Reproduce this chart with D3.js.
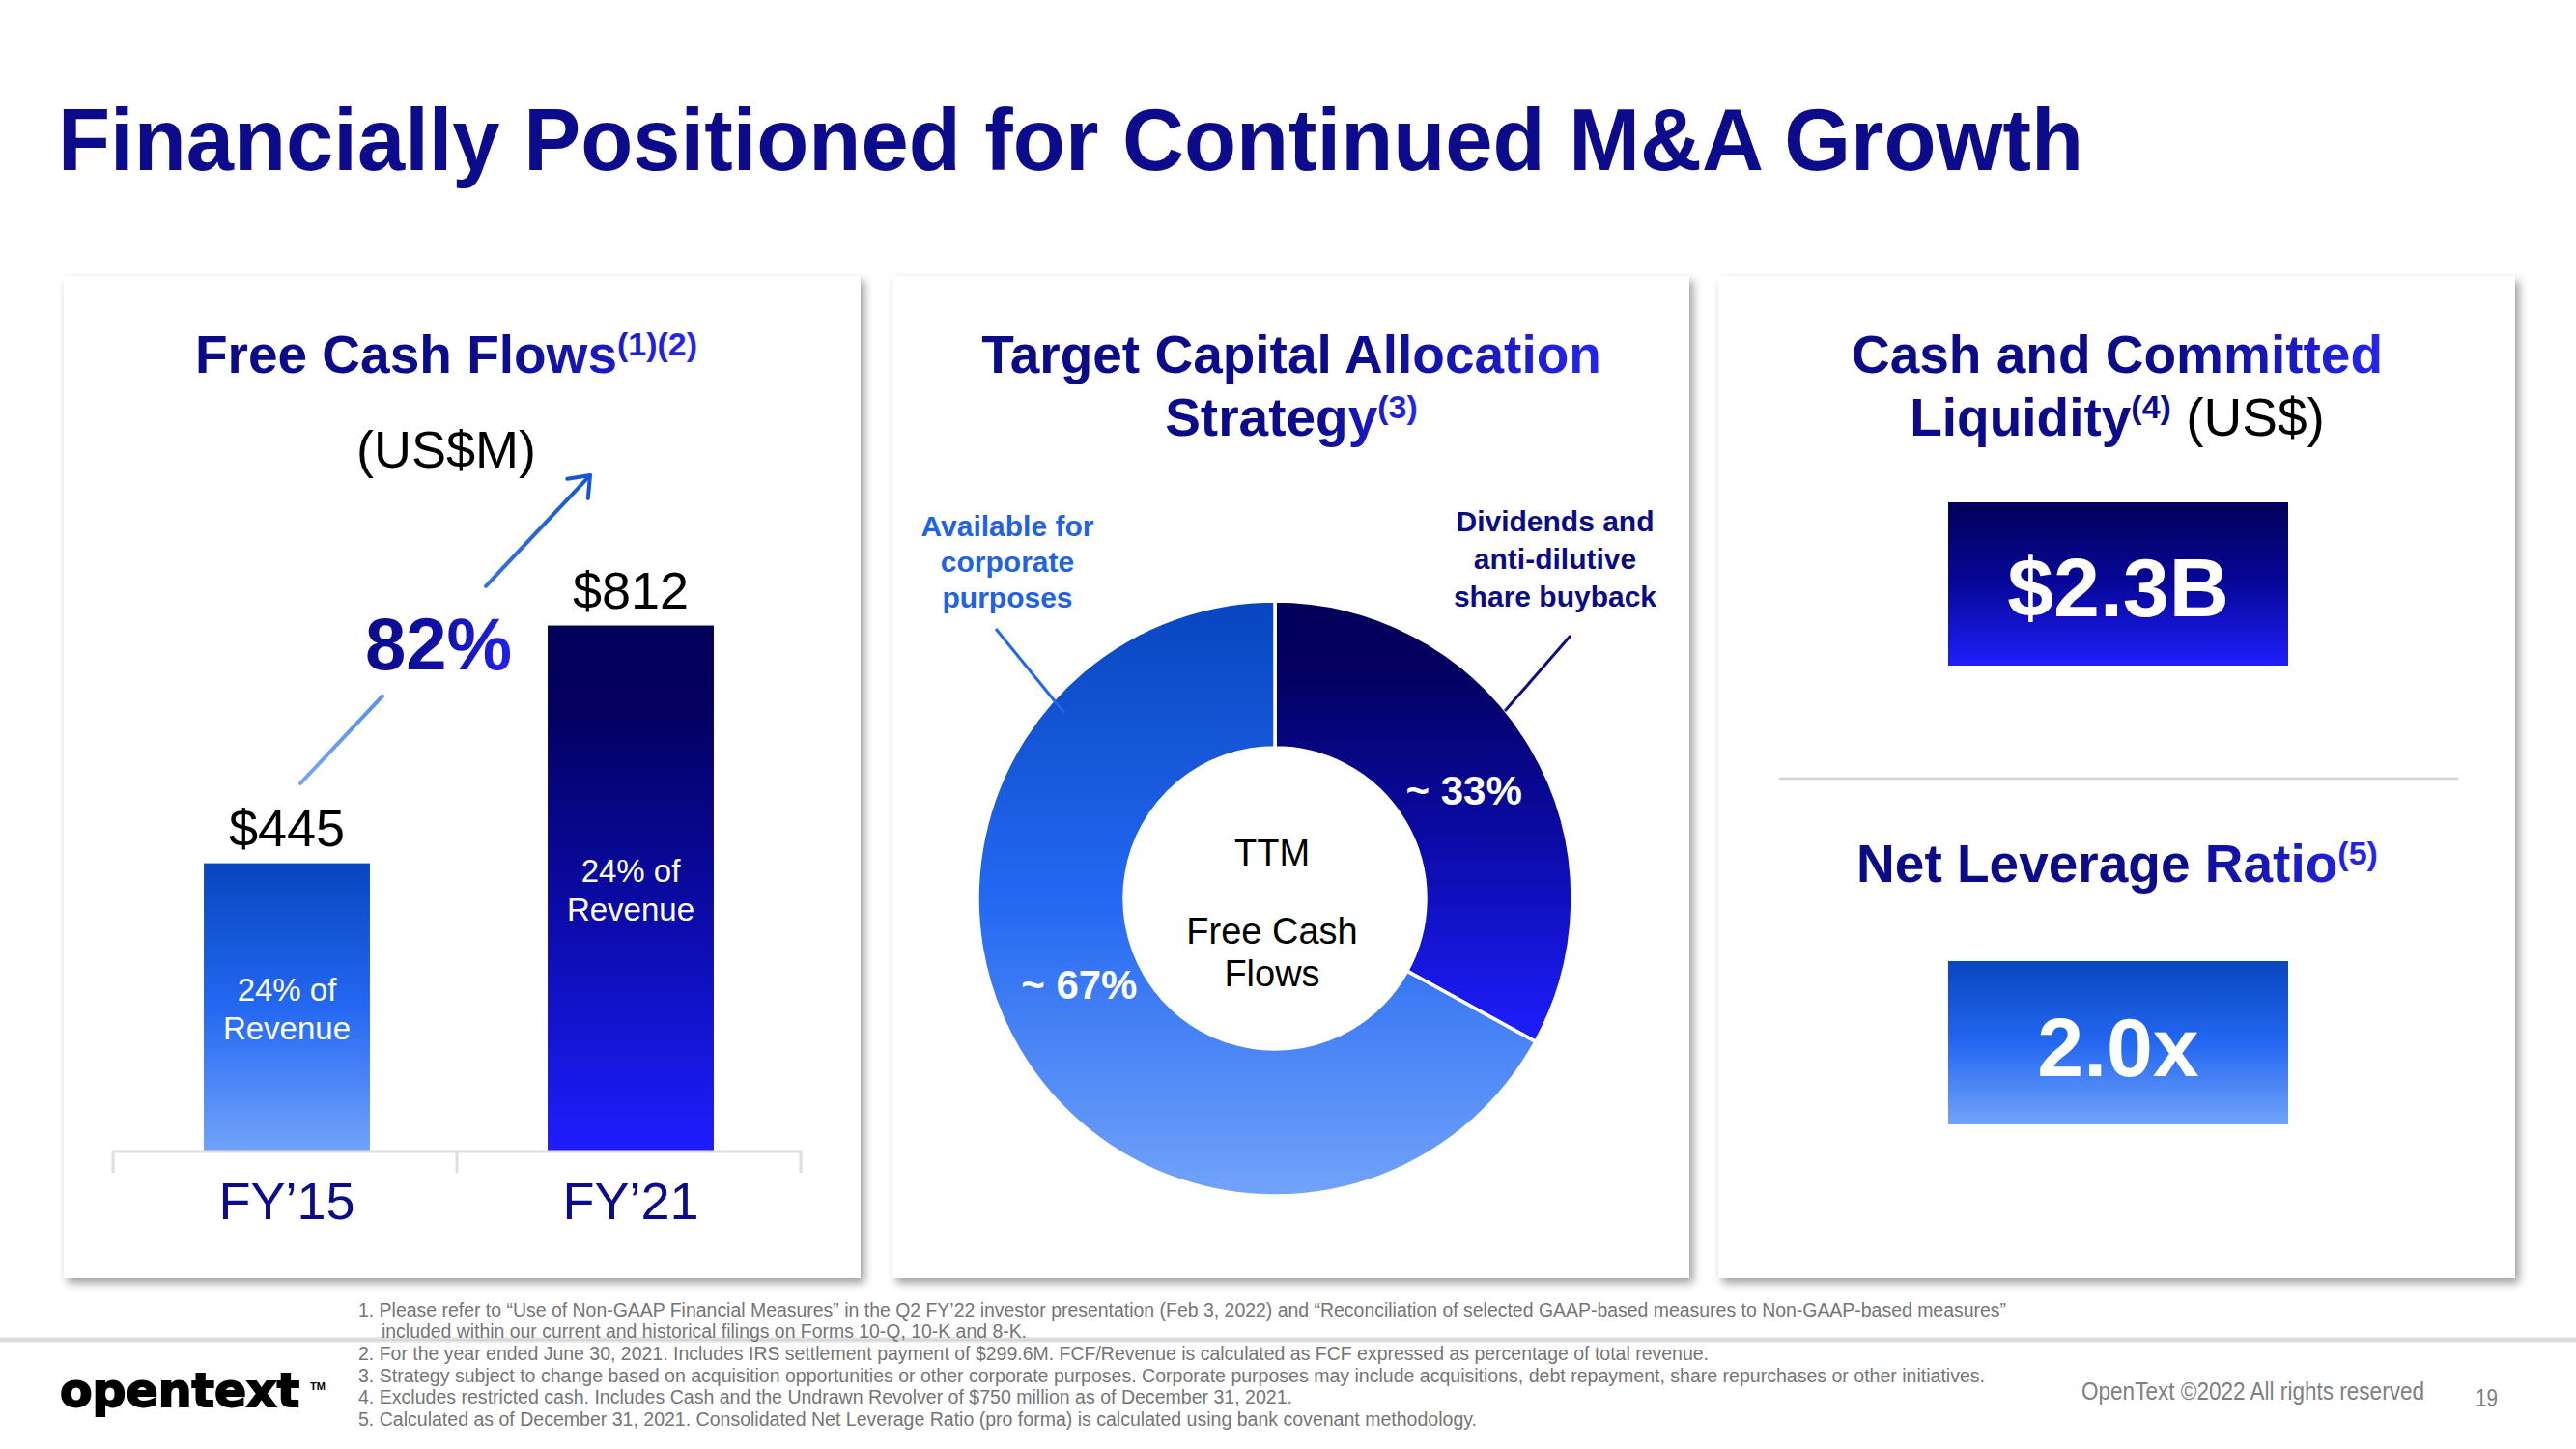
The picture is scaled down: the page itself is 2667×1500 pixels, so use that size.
<!DOCTYPE html>
<html>
<head>
<meta charset="utf-8">
<script src="https://cdn.jsdelivr.net/npm/d3@7"></script>
<style>
  html, body { margin: 0; padding: 0; background: #ffffff; }
  svg { display: block; }
</style>
</head>
<body>
<svg id="chart" width="2667" height="1500"></svg>
<script>
// ---------------- DATA ----------------
const pageTitle = "Financially Positioned for Continued M&A Growth";

const fcfCategories = ["FY\u201915", "FY\u201921"];
const fcfValues = [445, 812];
const fcfValueLabels = ["$445", "$812"];
const fcfShareLines = ["24% of", "Revenue"];
const fcfGrowthLabel = "82%";

const allocationNames = ["Dividends and anti-dilutive share buyback", "Available for corporate purposes"];
const allocationValues = [33, 67];
const allocationValueLabels = ["~ 33%", "~ 67%"];
const allocationCaptionDividends = ["Dividends and", "anti-dilutive", "share buyback"];
const allocationCaptionAvailable = ["Available for", "corporate", "purposes"];
const donutCenterLines = ["TTM", "Free Cash", "Flows"];

const liquidityLabel = "$2.3B";
const leverageLabel = "2.0x";

const footnotes = [
  "1. Please refer to \u201cUse of Non-GAAP Financial Measures\u201d in the Q2 FY\u201922 investor presentation (Feb 3, 2022) and \u201cReconciliation of selected GAAP-based measures to Non-GAAP-based measures\u201d",
  "included within our current and historical filings on Forms 10-Q, 10-K and 8-K.",
  "2. For the year ended June 30, 2021. Includes IRS settlement payment of $299.6M. FCF/Revenue is calculated as FCF expressed as percentage of total revenue.",
  "3. Strategy subject to change based on acquisition opportunities or other corporate purposes.  Corporate purposes may include acquisitions, debt repayment, share repurchases or other initiatives.",
  "4. Excludes restricted cash.  Includes Cash and the Undrawn Revolver of $750 million as of December 31, 2021.",
  "5. Calculated as of December 31, 2021.  Consolidated Net Leverage Ratio (pro forma) is calculated using bank covenant methodology."
];
const copyrightText = "OpenText \u00a92022 All rights reserved";
const pageNumber = "19";
const logoText = "opentext";

// ---------------- STYLE ----------------
const FONT = "'Liberation Sans', Arial, Helvetica, sans-serif";
const NARROW = "'Liberation Sans Narrow', 'Arial Narrow', 'Liberation Sans', sans-serif";
const NAVY = "#0b0b8c";

const svg = d3.select("#chart");
const defs = svg.append("defs");

function vGrad(id, stops) {
  const g = defs.append("linearGradient").attr("id", id)
    .attr("x1", 0).attr("y1", 0).attr("x2", 0).attr("y2", 1);
  stops.forEach(s => g.append("stop").attr("offset", s[0]).attr("stop-color", s[1]));
}
function hGrad(id, stops) {
  const g = defs.append("linearGradient").attr("id", id)
    .attr("x1", 0).attr("y1", 0).attr("x2", 1).attr("y2", 0);
  stops.forEach(s => g.append("stop").attr("offset", s[0]).attr("stop-color", s[1]));
}
vGrad("gLight", [[0, "#0846bf"], [0.5, "#2468f2"], [1, "#72a3fa"]]);
vGrad("gDark", [[0, "#020058"], [0.15, "#03005f"], [0.55, "#0b0ba8"], [1, "#1e1eff"]]);
vGrad("gBoxDark", [[0, "#020058"], [0.5, "#07079a"], [1, "#1f1ffc"]]);
vGrad("gFoot", [[0, "#f2f2f2"], [0.5, "#d2d2d2"], [1, "#f4f4f4"]]);
hGrad("gTitle", [[0, "#0b0b88"], [0.6, "#0b0b8c"], [1, "#2626ee"]]);
hGrad("gPct", [[0, "#0b0b8c"], [0.5, "#0f0fa6"], [1, "#2222f0"]]);

const sh = defs.append("filter").attr("id", "shadow")
  .attr("x", "-5%").attr("y", "-5%").attr("width", "110%").attr("height", "110%");
sh.append("feDropShadow").attr("dx", 4).attr("dy", 5).attr("stdDeviation", 5)
  .attr("flood-color", "#000").attr("flood-opacity", 0.38);

// ---------------- PAGE TITLE ----------------
svg.append("text")
  .attr("x", 60).attr("y", 176)
  .attr("font-family", FONT).attr("font-weight", "bold").attr("font-size", 90)
  .attr("fill", NAVY)
  .attr("textLength", 2097).attr("lengthAdjust", "spacingAndGlyphs")
  .text(pageTitle);

// ---------------- PANELS ----------------
const panels = [
  { x: 66, y: 286, w: 825, h: 1037 },
  { x: 924, y: 286, w: 825, h: 1037 },
  { x: 1779, y: 286, w: 825, h: 1037 }
];
svg.selectAll("rect.panel").data(panels).join("rect")
  .attr("class", "panel")
  .attr("x", d => d.x).attr("y", d => d.y)
  .attr("width", d => d.w).attr("height", d => d.h)
  .attr("fill", "#fff").attr("filter", "url(#shadow)");

function heading(cx, y, parts) {
  const t = svg.append("text")
    .attr("x", cx).attr("y", y).attr("text-anchor", "middle")
    .attr("font-family", FONT).attr("font-size", 55).attr("font-weight", "bold")
    .attr("fill", "url(#gTitle)");
  parts.forEach(p => {
    const ts = t.append("tspan").text(p.t);
    if (p.sup) ts.attr("font-size", 34).attr("dy", -18);
    if (p.after) ts.attr("dy", 18);
    if (p.plain) ts.attr("font-weight", "normal").attr("fill", "#000");
  });
  return t;
}

// ---------------- PANEL 1: FREE CASH FLOWS ----------------
heading(462, 386, [{ t: "Free Cash Flows" }, { t: "(1)(2)", sup: true }]);
svg.append("text").attr("x", 462).attr("y", 484).attr("text-anchor", "middle")
  .attr("font-family", FONT).attr("font-size", 54).attr("fill", "#000").text("(US$M)");

const x = d3.scaleBand().domain(fcfCategories).range([117, 829]).paddingInner(0).paddingOuter(0);
const y = d3.scaleLinear().domain([0, 1000]).range([1192, 521.5]);
const barW = x.bandwidth() * 0.483;
const barFills = ["url(#gLight)", "url(#gDark)"];

const bars = svg.append("g");
bars.selectAll("rect").data(fcfValues).join("rect")
  .attr("x", (d, i) => x(fcfCategories[i]) + x.bandwidth() / 2 - barW / 2 + 2)
  .attr("y", d => y(d))
  .attr("width", barW)
  .attr("height", d => y(0) - y(d))
  .attr("fill", (d, i) => barFills[i]);

// axis line with band-boundary ticks
const axisG = svg.append("g").attr("transform", `translate(0,${y(0)})`);
axisG.append("line").attr("x1", x.range()[0]).attr("x2", x.range()[1])
  .attr("stroke", "#dedede").attr("stroke-width", 3);
const tickXs = fcfCategories.map(c => x(c)).concat([x.range()[1]]);
axisG.selectAll("line.tk").data(tickXs).join("line").attr("class", "tk")
  .attr("x1", d => d).attr("x2", d => d).attr("y1", 0).attr("y2", 22)
  .attr("stroke", "#dedede").attr("stroke-width", 3);
axisG.selectAll("text.cat").data(fcfCategories).join("text").attr("class", "cat")
  .attr("x", d => x(d) + x.bandwidth() / 2 + 2).attr("y", 70)
  .attr("text-anchor", "middle").attr("font-family", FONT).attr("font-size", 54)
  .attr("fill", NAVY).text(d => d);

// value labels
svg.selectAll("text.val").data(fcfValues).join("text").attr("class", "val")
  .attr("x", (d, i) => x(fcfCategories[i]) + x.bandwidth() / 2 + 2)
  .attr("y", d => y(d) - 18)
  .attr("text-anchor", "middle").attr("font-family", FONT).attr("font-size", 54)
  .attr("fill", "#000").text((d, i) => fcfValueLabels[i]);

// inside labels
fcfValues.forEach((v, i) => {
  const cx = x(fcfCategories[i]) + x.bandwidth() / 2 + 2;
  const mid = (y(v) + y(0)) / 2;
  fcfShareLines.forEach((line, j) => {
    svg.append("text").attr("x", cx).attr("y", mid - 7 + j * 40)
      .attr("text-anchor", "middle").attr("font-family", FONT).attr("font-size", 33)
      .attr("fill", "#fff").text(line);
  });
});

// growth arrow
defs.append("linearGradient").attr("id", "gArrow").attr("gradientUnits", "userSpaceOnUse")
  .attr("x1", 311).attr("y1", 811).attr("x2", 611).attr("y2", 492)
  .call(g => {
    g.append("stop").attr("offset", 0).attr("stop-color", "#74a4fa");
    g.append("stop").attr("offset", 1).attr("stop-color", "#1556d6");
  });
const arrowStart = [311, 811], arrowEnd = [611, 492];
const lerp = t => [arrowStart[0] + (arrowEnd[0] - arrowStart[0]) * t, arrowStart[1] + (arrowEnd[1] - arrowStart[1]) * t];
const segs = [[0, 0.283], [0.64, 1]];
segs.forEach(s => {
  const a = lerp(s[0]), b = lerp(s[1]);
  svg.append("line").attr("x1", a[0]).attr("y1", a[1]).attr("x2", b[0]).attr("y2", b[1])
    .attr("stroke", "url(#gArrow)").attr("stroke-width", 4).attr("stroke-linecap", "round");
});
{
  const dx = arrowEnd[0] - arrowStart[0], dy = arrowEnd[1] - arrowStart[1];
  const L = Math.hypot(dx, dy), ux = dx / L, uy = dy / L;
  const len = 24, ang = 38 * Math.PI / 180;
  const rot = (a) => [-(ux * Math.cos(a) - uy * Math.sin(a)) * len, -(ux * Math.sin(a) + uy * Math.cos(a)) * len];
  const p1 = rot(ang), p2 = rot(-ang);
  svg.append("path")
    .attr("d", `M${arrowEnd[0] + p1[0]},${arrowEnd[1] + p1[1]} L${arrowEnd[0]},${arrowEnd[1]} L${arrowEnd[0] + p2[0]},${arrowEnd[1] + p2[1]}`)
    .attr("fill", "none").attr("stroke", "#1556d6").attr("stroke-width", 4)
    .attr("stroke-linecap", "round").attr("stroke-linejoin", "round");
}
svg.append("text").attr("x", 454).attr("y", 693).attr("text-anchor", "middle")
  .attr("font-family", FONT).attr("font-weight", "bold").attr("font-size", 76)
  .attr("fill", "url(#gPct)").text(fcfGrowthLabel);

// ---------------- PANEL 2: DONUT ----------------
heading(1337, 386, [{ t: "Target Capital Allocation" }]);
heading(1337, 451, [{ t: "Strategy" }, { t: "(3)", sup: true }]);

const cx2 = 1320, cy2 = 930;
const outerR = 308, innerR = 156;
const pie = d3.pie().sort(null).value(d => d);
const arc = d3.arc().innerRadius(innerR).outerRadius(outerR);
const sliceFills = ["url(#gDark)", "url(#gLight)"];
const donut = svg.append("g").attr("transform", `translate(${cx2},${cy2})`);
const arcs = pie(allocationValues);
donut.selectAll("path").data(arcs).join("path")
  .attr("d", arc)
  .attr("fill", (d, i) => sliceFills[i])
  .attr("stroke", "#fff").attr("stroke-width", 3.5).attr("stroke-linejoin", "miter");

const labelOffsets = [[-4, 21], [-3, -14]];
donut.selectAll("text.pct").data(arcs).join("text").attr("class", "pct")
  .attr("x", (d, i) => arc.centroid(d)[0] + labelOffsets[i][0])
  .attr("y", (d, i) => arc.centroid(d)[1] + labelOffsets[i][1])
  .attr("text-anchor", "middle").attr("font-family", FONT).attr("font-size", 42)
  .attr("font-weight", "bold").attr("fill", "#fff")
  .text((d, i) => allocationValueLabels[i]);

const centerYs = [896, 977, 1021];
donutCenterLines.forEach((t, i) => {
  svg.append("text").attr("x", 1317).attr("y", centerYs[i]).attr("text-anchor", "middle")
    .attr("font-family", FONT).attr("font-size", 38).attr("fill", "#000").text(t);
});

// captions
allocationCaptionAvailable.forEach((t, i) => {
  svg.append("text").attr("x", 1043).attr("y", 555 + i * 37).attr("text-anchor", "middle")
    .attr("font-family", FONT).attr("font-size", 30).attr("font-weight", "bold")
    .attr("fill", "#1f62e6").text(t);
});
allocationCaptionDividends.forEach((t, i) => {
  svg.append("text").attr("x", 1610).attr("y", 550 + i * 39).attr("text-anchor", "middle")
    .attr("font-family", FONT).attr("font-size", 30).attr("font-weight", "bold")
    .attr("fill", "#0b0b86").text(t);
});
svg.append("line").attr("x1", 1031).attr("y1", 651).attr("x2", 1102).attr("y2", 738)
  .attr("stroke", "#2166e8").attr("stroke-width", 3);
svg.append("line").attr("x1", 1626).attr("y1", 658).attr("x2", 1558).attr("y2", 736)
  .attr("stroke", "#0b0b86").attr("stroke-width", 3);

// ---------------- PANEL 3: LIQUIDITY / LEVERAGE ----------------
heading(2192, 386, [{ t: "Cash and Committed" }]);
heading(2192, 451, [{ t: "Liquidity" }, { t: "(4)", sup: true }, { t: " (US$)", after: true, plain: true }]);

const boxes = [
  { label: liquidityLabel, y: 520, fill: "url(#gBoxDark)", ty: 638 },
  { label: leverageLabel, y: 995, fill: "url(#gLight)", ty: 1114 }
];
boxes.forEach(b => {
  svg.append("rect").attr("x", 2017).attr("y", b.y).attr("width", 352).attr("height", 169)
    .attr("fill", b.fill);
  svg.append("text").attr("x", 2193).attr("y", b.ty).attr("text-anchor", "middle")
    .attr("font-family", FONT).attr("font-weight", "bold").attr("font-size", 86)
    .attr("fill", "#fff").text(b.label);
});
svg.append("line").attr("x1", 1842).attr("x2", 2545).attr("y1", 806).attr("y2", 806)
  .attr("stroke", "#d4d4d4").attr("stroke-width", 2.5);
heading(2192, 913, [{ t: "Net Leverage Ratio" }, { t: "(5)", sup: true }]);

// ---------------- FOOTER ----------------
svg.append("rect").attr("x", 0).attr("y", 1384).attr("width", 2667).attr("height", 6)
  .attr("fill", "url(#gFoot)");

const fnX = [371, 395, 371, 371, 371, 371];
const fnY = [1363, 1385, 1408, 1431, 1453, 1476];
const fnW = [1706, 668, 1398, 1684, 967, 1158];
footnotes.forEach((t, i) => {
  svg.append("text").attr("x", fnX[i]).attr("y", fnY[i])
    .attr("font-family", NARROW).attr("font-size", 20).attr("fill", "#757575")
    .attr("textLength", fnW[i]).attr("lengthAdjust", "spacingAndGlyphs")
    .text(t);
});
svg.append("text").attr("x", 2155).attr("y", 1449)
  .attr("font-family", NARROW).attr("font-size", 25).attr("fill", "#808080")
  .attr("textLength", 355).attr("lengthAdjust", "spacingAndGlyphs").text(copyrightText);
svg.append("text").attr("x", 2563).attr("y", 1456)
  .attr("font-family", NARROW).attr("font-size", 25).attr("fill", "#808080")
  .attr("textLength", 23).attr("lengthAdjust", "spacingAndGlyphs").text(pageNumber);

svg.append("text").attr("x", 62).attr("y", 1456)
  .attr("font-family", "'DejaVu Sans', sans-serif").attr("font-weight", "bold").attr("font-size", 48)
  .attr("fill", "#000").attr("stroke", "#000").attr("stroke-width", 1.8)
  .attr("textLength", 248).attr("lengthAdjust", "spacingAndGlyphs")
  .text(logoText);
svg.append("text").attr("x", 321).attr("y", 1439)
  .attr("font-family", FONT).attr("font-weight", "bold").attr("font-size", 11)
  .attr("fill", "#000").text("TM");
</script>
</body>
</html>
